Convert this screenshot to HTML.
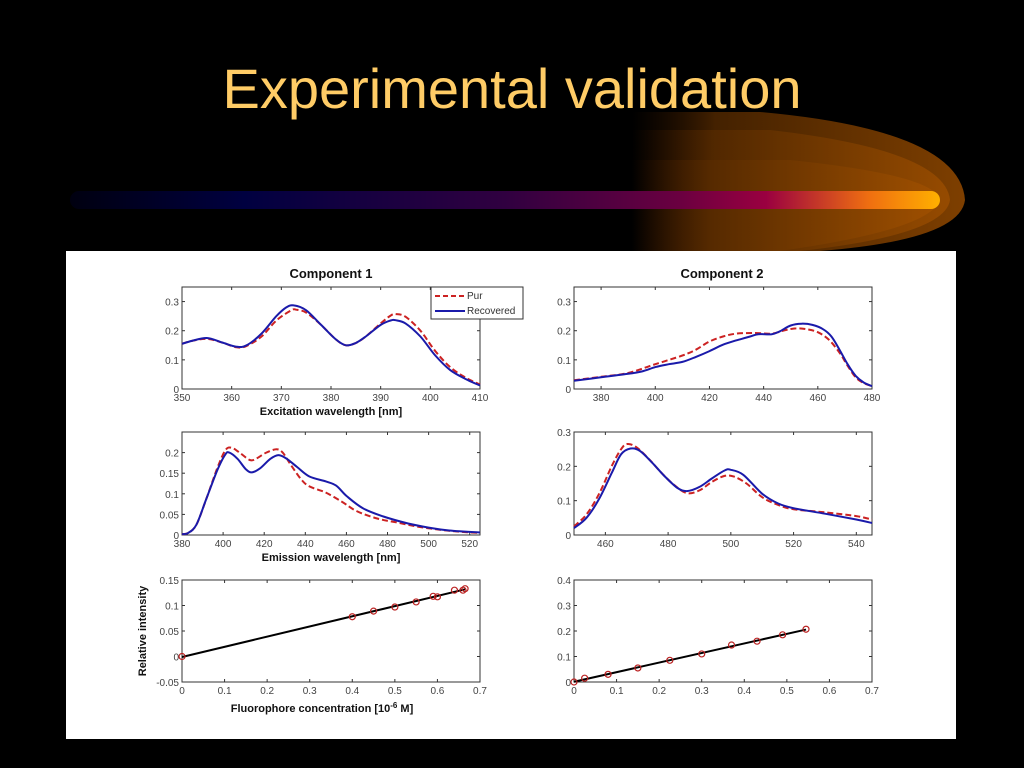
<!DOCTYPE html>
<html><head><meta charset="utf-8">
<style>
html,body{margin:0;padding:0;background:#000;width:1024px;height:768px;overflow:hidden}
svg{display:block}
text{font-family:"Liberation Sans",Arial,sans-serif}
</style></head>
<body>
<svg id="s" width="1024" height="768" xmlns="http://www.w3.org/2000/svg">
<defs>
<linearGradient id="bar" x1="0" x2="1" y1="0" y2="0">
<stop offset="0" stop-color="#000010"/><stop offset="0.2" stop-color="#000040"/>
<stop offset="0.5" stop-color="#300040"/><stop offset="0.7" stop-color="#6a0040"/>
<stop offset="0.8" stop-color="#9a0040"/><stop offset="0.92" stop-color="#f07010"/>
<stop offset="1" stop-color="#ffb000"/></linearGradient>
<linearGradient id="glow" x1="0" x2="1" y1="0" y2="0">
<stop offset="0" stop-color="#3a1800" stop-opacity="0"/><stop offset="0.25" stop-color="#5a2c00"/>
<stop offset="1" stop-color="#a85400"/></linearGradient>
</defs>
<g>
<path d="M632,112 L760,112 Q960,130 965,200 Q960,240 820,251 L632,251 Z" fill="url(#glow)" opacity="0.75"/>
<path d="M632,130 L770,130 Q945,150 950,200 Q945,235 800,251 L632,251 Z" fill="url(#glow)" opacity="0.6"/>
<path d="M632,160 L790,160 Q935,175 940,200 Q930,230 780,251 L632,251 Z" fill="url(#glow)" opacity="0.6"/>
<rect x="70" y="191" width="870" height="18" rx="9" fill="url(#bar)"/>
</g>
<text x="512" y="108" text-anchor="middle" font-size="56" fill="#ffcc66">Experimental validation</text>
<rect x="66" y="251" width="890" height="488" fill="#fff"/>
<g id="fig"></g>
</svg>
<script>
// Panel 1: excitation, component 1
const p1PurX=[350,352,355,358,361,363,366,369,372,373,375,378,381,383,385,387,390,392,393,395,398,401,404,407,410];
const p1PurY=[.155,.165,.172,.16,.143,.148,.18,.235,.27,.272,.262,.22,.17,.15,.158,.18,.225,.252,.257,.248,.2,.13,.075,.04,.015];
const p1RecX=[350,352,355,358,361,363,366,369,371,372.5,375,378,381,383,385,387,390,392,393,395,398,401,404,407,410];
const p1RecY=[.155,.165,.175,.16,.145,.15,.19,.25,.28,.287,.27,.22,.17,.15,.158,.18,.22,.235,.236,.225,.18,.115,.065,.035,.012];
// Panel 2: excitation, component 2
const p2PurX=[370,380,390,400,410,415,420,425,430,437,443,448,452,456,460,464,468,471,474,477,480];
const p2PurY=[.03,.042,.055,.085,.115,.135,.163,.18,.19,.192,.19,.202,.208,.205,.195,.17,.125,.08,.04,.02,.01];
const p2RecX=[370,380,390,395,400,405,410,415,420,425,430,435,438,443,446,450,454,458,462,465,468,471,474,477,480];
const p2RecY=[.028,.04,.052,.06,.075,.085,.093,.11,.13,.152,.167,.18,.188,.188,.198,.218,.224,.22,.205,.18,.135,.085,.045,.022,.01];
// Panel 3: emission, component 1
const p3PurX=[380,383,387,392,397,401,404,408,413,416,421,426,429,433,438,442,450,458,465,475,485,495,505,515,525];
const p3PurY=[.002,.005,.025,.09,.16,.205,.212,.2,.182,.185,.2,.208,.2,.17,.135,.118,.103,.08,.058,.04,.03,.02,.013,.008,.005];
const p3RecX=[380,383,387,392,397,401,403,407,411,414,418,423,427,431,436,442,450,455,460,468,478,490,500,510,525];
const p3RecY=[.002,.005,.025,.09,.155,.195,.2,.185,.16,.152,.162,.185,.194,.185,.165,.142,.13,.12,.095,.065,.045,.028,.018,.011,.006];
// Panel 4: emission, component 2
const p4PurX=[450,454,458,462,465,467,470,474,478,482,486,490,494,498,501,505,510,515,520,530,540,545];
const p4PurY=[.025,.06,.12,.2,.25,.265,.255,.22,.18,.145,.122,.13,.155,.172,.17,.15,.11,.088,.075,.066,.055,.045];
const p4RecX=[450,454,458,462,465,468,471,475,479,483,486,490,494,498,500,504,510,515,520,530,540,545];
const p4RecY=[.02,.05,.105,.18,.235,.252,.245,.21,.17,.137,.128,.14,.165,.188,.19,.175,.12,.092,.078,.062,.045,.035];
// Panel 5/6: concentration vs intensity
const p5X=[0,.40,.45,.50,.55,.59,.60,.64,.66,.665];
const p5Y=[0,.078,.089,.097,.107,.118,.117,.13,.13,.133];
const p6X=[0,.025,.08,.15,.225,.30,.37,.43,.49,.545];
const p6Y=[0,.015,.03,.055,.085,.11,.145,.16,.185,.207];
// ticks
const t1X=[350,360,370,380,390,400,410], t1Y=[0,0.1,0.2,0.3];
const t2X=[380,400,420,440,460,480], t2Y=[0,0.1,0.2,0.3];
const t3X=[380,400,420,440,460,480,500,520], t3Y=[0,0.05,0.1,0.15,0.2];
const t4X=[460,480,500,520,540], t4Y=[0,0.1,0.2,0.3];
const t5X=[0,0.1,0.2,0.3,0.4,0.5,0.6,0.7], t5Y=[-0.05,0,0.05,0.1,0.15];
const t6X=[0,0.1,0.2,0.3,0.4,0.5,0.6,0.7], t6Y=[0,0.1,0.2,0.3,0.4];

const NS='http://www.w3.org/2000/svg';
const fig=document.getElementById('fig');
function mk(tag,attrs,parent){const e=document.createElementNS(NS,tag);for(const k in attrs)e.setAttribute(k,attrs[k]);(parent||fig).appendChild(e);return e;}
function fmt(v){let s=String(+v.toFixed(3));return s;}

function panel(name,box,xd,yd,tx,ty){
  const g=mk('g',{});
  
  
  const sx=v=>box.x+(v-xd[0])/(xd[1]-xd[0])*box.w;
  const sy=v=>box.y+box.h-(v-yd[0])/(yd[1]-yd[0])*box.h;
  const r=mk('rect',{x:box.x,y:box.y,width:box.w,height:box.h,fill:'#fff',stroke:'#333','stroke-width':1},g);
  
  
  tx.forEach(v=>{const X=sx(v);
    mk('line',{x1:X,x2:X,y1:box.y+box.h,y2:box.y+box.h-3,stroke:'#333'},g);
    mk('line',{x1:X,x2:X,y1:box.y,y2:box.y+3,stroke:'#333'},g);
    const t=mk('text',{x:X,y:box.y+box.h+12,'text-anchor':'middle','font-size':10,fill:'#444'},g);
    t.textContent=fmt(v);
    
    });
  ty.forEach(v=>{const Y=sy(v);
    mk('line',{x1:box.x,x2:box.x+3,y1:Y,y2:Y,stroke:'#333'},g);
    mk('line',{x1:box.x+box.w,x2:box.x+box.w-3,y1:Y,y2:Y,stroke:'#333'},g);
    const t=mk('text',{x:box.x-3,y:Y+4,'text-anchor':'end','font-size':10,fill:'#444'},g);
    t.textContent=fmt(v);
    
    });
  return {g,sx,sy};
}
function line(P,xs,ys,color,dash,name){
  const pts=xs.map((x,i)=>[P.sx(x),P.sy(ys[i])]);
  let d='M'+pts[0][0].toFixed(1)+','+pts[0][1].toFixed(1);
  for(let i=0;i<pts.length-1;i++){
    const p0=pts[Math.max(0,i-1)],p1=pts[i],p2=pts[i+1],p3=pts[Math.min(pts.length-1,i+2)];
    const c1=[p1[0]+(p2[0]-p0[0])/6,p1[1]+(p2[1]-p0[1])/6];
    const c2=[p2[0]-(p3[0]-p1[0])/6,p2[1]-(p3[1]-p1[1])/6];
    d+=' C'+c1[0].toFixed(1)+','+c1[1].toFixed(1)+' '+c2[0].toFixed(1)+','+c2[1].toFixed(1)+' '+p2[0].toFixed(1)+','+p2[1].toFixed(1);
  }
  const p=mk('path',{d:d,fill:'none',stroke:color,'stroke-width':2,'stroke-dasharray':dash||'none','stroke-linejoin':'round'},P.g);
  
  
}
function label(x,y,txt,size,name,extra){
  const t=mk('text',Object.assign({x:x,y:y,'text-anchor':'middle','font-size':size,'font-weight':'bold',fill:'#111'},extra||{}));
  t.textContent=txt;
  
  
  return t;
}
const RED='#cc2222',BLUE='#1a1aaa';
const P1=panel('excitation-plot-component-1',{x:182,y:287,w:298,h:102},[350,410],[0,0.35],t1X,t1Y);
line(P1,p1PurX,p1PurY,RED,'6,3','pur-line');line(P1,p1RecX,p1RecY,BLUE,null,'recovered-line');
const P2=panel('excitation-plot-component-2',{x:574,y:287,w:298,h:102},[370,480],[0,0.35],t2X,t2Y);
line(P2,p2PurX,p2PurY,RED,'6,3','pur-line');line(P2,p2RecX,p2RecY,BLUE,null,'recovered-line');
const P3=panel('emission-plot-component-1',{x:182,y:432,w:298,h:103},[380,525],[0,0.25],t3X,t3Y);
line(P3,p3PurX,p3PurY,RED,'6,3','pur-line');line(P3,p3RecX,p3RecY,BLUE,null,'recovered-line');
const P4=panel('emission-plot-component-2',{x:574,y:432,w:298,h:103},[450,545],[0,0.3],t4X,t4Y);
line(P4,p4PurX,p4PurY,RED,'6,3','pur-line');line(P4,p4RecX,p4RecY,BLUE,null,'recovered-line');

function scatter(P,xs,ys){
  const n=xs.length,mx=xs.reduce((a,b)=>a+b)/n,my=ys.reduce((a,b)=>a+b)/n;
  let sxy=0,sxx=0;xs.forEach((x,i)=>{sxy+=(x-mx)*(ys[i]-my);sxx+=(x-mx)*(x-mx);});
  const b=sxy/sxx,a=my-b*mx,x0=Math.min(...xs),x1=Math.max(...xs);
  const l=mk('line',{x1:P.sx(x0),y1:P.sy(a+b*x0),x2:P.sx(x1),y2:P.sy(a+b*x1),stroke:'#000','stroke-width':2},P.g);
  
  
  xs.forEach((x,i)=>{const c=mk('circle',{cx:P.sx(x),cy:P.sy(ys[i]),r:3,fill:'none',stroke:'#bb2222','stroke-width':1.2},P.g);
    
    });
}
const P5=panel('calibration-plot-component-1',{x:182,y:580,w:298,h:102},[0,0.7],[-0.05,0.15],t5X,t5Y);
scatter(P5,p5X,p5Y);
const P6=panel('calibration-plot-component-2',{x:574,y:580,w:298,h:102},[0,0.7],[0,0.4],t6X,t6Y);
scatter(P6,p6X,p6Y);

label(331,278,'Component 1',13,'title-component-1');
label(722,278,'Component 2',13,'title-component-2');
label(331,415,'Excitation wavelength [nm]',11,'x-axis-title-excitation');
label(331,561,'Emission wavelength [nm]',11,'x-axis-title-emission');
const xt=label(322,712,'Fluorophore concentration [10',11,'x-axis-title-concentration');
const sup=mk('tspan',{dy:-4,'font-size':8});sup.textContent='-6';xt.appendChild(sup);
const rest=mk('tspan',{dy:4});rest.textContent=' M]';xt.appendChild(rest);
label(146,631,'Relative intensity',11,'y-axis-title',{transform:'rotate(-90 146 631)'});

// legend
const lg=mk('g',{});


mk('rect',{x:431,y:287,width:92,height:32,fill:'#fff',stroke:'#333'},lg);
mk('line',{x1:435,x2:465,y1:296,y2:296,stroke:RED,'stroke-width':2,'stroke-dasharray':'5,3'},lg);
mk('line',{x1:435,x2:465,y1:311,y2:311,stroke:BLUE,'stroke-width':2},lg);
const l1=mk('text',{x:467,y:299,'font-size':10,fill:'#333'},lg);l1.textContent='Pur';


const l2=mk('text',{x:467,y:314,'font-size':10,fill:'#333'},lg);l2.textContent='Recovered';


</script>
</body></html>
